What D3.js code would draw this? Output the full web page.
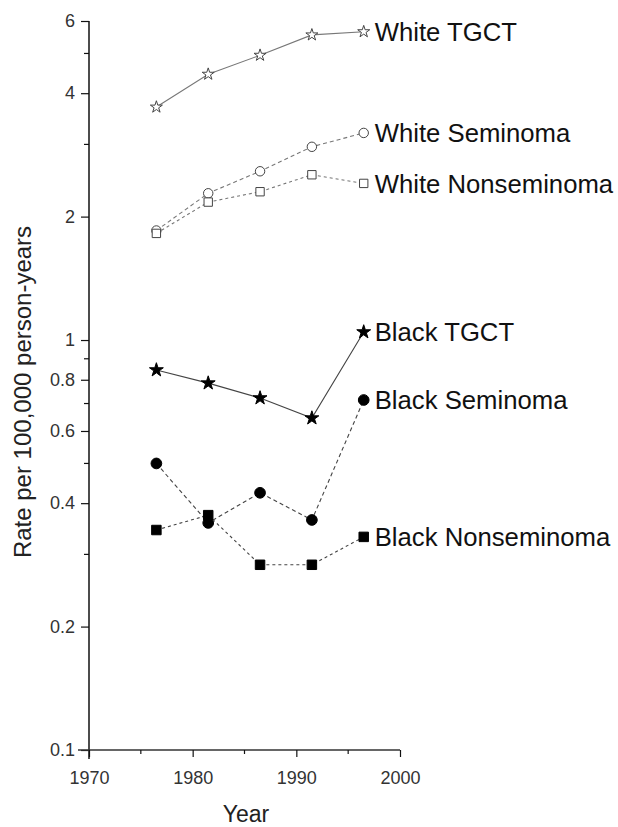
<!DOCTYPE html>
<html>
<head>
<meta charset="utf-8">
<script src="https://cdn.jsdelivr.net/npm/d3@7"></script>
<style>
  html, body { margin: 0; padding: 0; background: #fff; }
  svg { display: block; font-family: "Liberation Sans", Arial, sans-serif; }
</style>
</head>
<body>
<svg id="chart" width="618" height="827"></svg>
<script>
// ---- data ----
const years = [1976.5, 1981.5, 1986.5, 1991.5, 1996.5];
const whiteTGCT = [3.7, 4.45, 4.95, 5.55, 5.65];
const whiteSeminoma = [1.85, 2.28, 2.58, 2.96, 3.2];
const whiteNonseminoma = [1.82, 2.17, 2.3, 2.53, 2.41];
const blackTGCT = [0.845, 0.785, 0.722, 0.645, 1.046];
const blackSeminoma = [0.5, 0.358, 0.424, 0.364, 0.714];
const blackNonseminoma = [0.344, 0.374, 0.283, 0.283, 0.331];
const seriesNames = ["White TGCT", "White Seminoma", "White Nonseminoma", "Black TGCT", "Black Seminoma", "Black Nonseminoma"];
const yMajorTicks = [0.1, 0.2, 0.4, 0.6, 0.8, 1, 2, 4, 6];
const yMinorTicks = [0.3, 0.5, 0.7, 0.9, 3, 5];
const xMajorTicks = [1970, 1980, 1990, 2000];
const xMinorTicks = [1975, 1985, 1995];

// ---- styling per series ----
const styles = [
  { values: whiteTGCT, symbol: d3.symbolStar, size: 45, fill: "#fff", dash: null },
  { values: whiteSeminoma, symbol: d3.symbolCircle, size: 70, fill: "#fff", dash: "4,3" },
  { values: whiteNonseminoma, symbol: d3.symbolSquare, size: 70, fill: "#fff", dash: "3,3" },
  { values: blackTGCT, symbol: d3.symbolStar, size: 60, fill: "#000", dash: null },
  { values: blackSeminoma, symbol: d3.symbolCircle, size: 90, fill: "#000", dash: "4,3" },
  { values: blackNonseminoma, symbol: d3.symbolSquare, size: 90, fill: "#000", dash: "3,3" }
];

const svg = d3.select("#chart");
const x = d3.scaleLinear().domain([1970, 2000]).range([89, 400]);
const y = d3.scaleLog().domain([0.1, 6]).range([750, 21]);

// ---- axes ----
const yAxis = svg.append("g").attr("transform", `translate(${x(1970)},0)`)
  .call(d3.axisLeft(y).tickValues(yMajorTicks).tickSize(8).tickPadding(6)
    .tickFormat(d => String(d)));
yAxis.selectAll(".tick text").attr("font-size", 18).attr("fill", "#333")
  .attr("font-family", "Liberation Sans, Arial, sans-serif");
yAxis.select(".domain").attr("d", `M0,${y(6)}V${y(0.1) + 9}`).attr("stroke", "#111").attr("stroke-width", 1.5);
yAxis.selectAll(".tick line").attr("stroke", "#111").attr("stroke-width", 1.2);
yAxis.append("g").selectAll("line").data(yMinorTicks).join("line")
  .attr("x1", -5).attr("x2", 0).attr("y1", d => y(d)).attr("y2", d => y(d))
  .attr("stroke", "#111").attr("stroke-width", 1.2);

const xAxis = svg.append("g").attr("transform", `translate(0,${y(0.1)})`)
  .call(d3.axisBottom(x).tickValues(xMajorTicks).tickSize(7).tickPadding(14)
    .tickFormat(d3.format("d")));
xAxis.selectAll(".tick text").attr("font-size", 18).attr("fill", "#333")
  .attr("font-family", "Liberation Sans, Arial, sans-serif");
xAxis.select(".domain").attr("d", `M${x(1970) - 11},0H${x(2000)}`).attr("stroke", "#333").attr("stroke-width", 1.5);
xAxis.selectAll(".tick line").attr("stroke", "#111").attr("stroke-width", 1.2);
xAxis.append("g").selectAll("line").data(xMinorTicks).join("line")
  .attr("x1", d => x(d)).attr("x2", d => x(d)).attr("y1", 0).attr("y2", 4)
  .attr("stroke", "#111").attr("stroke-width", 1.2);

// axis titles
svg.append("text").attr("x", 246).attr("y", 822).attr("text-anchor", "middle")
  .attr("font-size", 23).attr("fill", "#222").text("Year");
svg.append("text").attr("transform", "translate(31,392) rotate(-90)")
  .attr("text-anchor", "middle").attr("font-size", 24).attr("fill", "#222")
  .text("Rate per 100,000 person-years");

// ---- series ----
const line = d3.line().x((d, i) => x(years[i])).y(d => y(d));
styles.forEach((s, k) => {
  svg.append("path").attr("d", line(s.values)).attr("fill", "none")
    .attr("stroke", k < 3 ? "#777" : "#444").attr("stroke-width", 1.1)
    .attr("stroke-dasharray", s.dash);
  svg.append("g").selectAll("path").data(s.values).join("path")
    .attr("transform", (d, i) => `translate(${x(years[i])},${y(d)})`)
    .attr("d", d3.symbol().type(s.symbol).size(s.size))
    .attr("fill", s.fill).attr("stroke", s.fill === "#fff" ? "#444" : "#000")
    .attr("stroke-width", 1);
  svg.append("text").attr("x", x(years[years.length - 1]) + 11)
    .attr("y", y(s.values[s.values.length - 1])).attr("dy", "0.36em")
    .attr("font-size", 25.7).attr("fill", "#111").text(seriesNames[k]);
});
</script>
</body>
</html>
